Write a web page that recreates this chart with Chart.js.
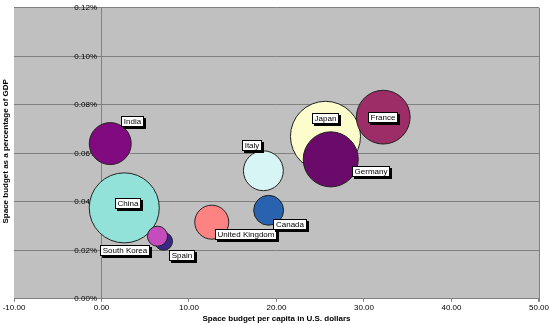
<!DOCTYPE html>
<html>
<head>
<meta charset="utf-8">
<script src="https://cdn.jsdelivr.net/npm/chart.js@4/dist/chart.umd.min.js"></script>
<style>
html,body{margin:0;padding:0;background:#fff;}
#wrap{width:550px;height:324px;position:relative;}
</style>
</head>
<body>
<div id="wrap"><canvas id="c" width="550" height="324"></canvas></div>
<script>
// ---- data ----
const countries = ["China","Japan","India","Italy","United Kingdom","Canada","Spain","South Korea","Germany","France"];
const perCapita = [2.6, 25.6, 1.0, 18.5, 12.6, 19.1, 7.1, 6.4, 26.2, 32.2];          // US$ per capita
const pctGDP    = [0.0375, 0.067, 0.064, 0.0528, 0.0316, 0.0365, 0.0237, 0.0258, 0.0575, 0.0749]; // % of GDP
const budget    = [3.4, 3.4, 1.22, 1.1, 0.8, 0.62, 0.22, 0.28, 2.1, 2.0];            // bubble size (total budget, US$ bn)
const xTicks = [-10, 0, 10, 20, 30, 40, 50];
const yTicks = [0, 0.02, 0.04, 0.06, 0.08, 0.10, 0.12];

// ---- styles ----
const colors = ["#93e2da","#fcfccd","#820a80","#d8f5f5","#fd8282","#2962ae","#3a2889","#c64cbd","#6a0a6a","#9c2d66"];
const labelOffsets = [[4,-4],[0,-18],[22,-22],[-11,-25],[34,12],[21,14],[18,14],[-32,14],[40,12],[0,0]];
const radiusScale = 19;

const bgPlugin = {
  id: 'bg',
  beforeDraw(chart) {
    const {ctx, chartArea: a} = chart;
    ctx.save();
    ctx.fillStyle = '#c0c0c0';
    ctx.fillRect(a.left, a.top, a.right - a.left, a.bottom - a.top);
    ctx.restore();
  },
  afterDatasetsDraw(chart) {
    const {ctx, chartArea: a} = chart;
    ctx.save();
    ctx.strokeStyle = '#808080';
    ctx.lineWidth = 1;
    ctx.beginPath();
    ctx.moveTo(Math.round(a.right) + 0.5, a.top);
    ctx.lineTo(Math.round(a.right) + 0.5, a.bottom + 3);
    ctx.stroke();
    // labels
    const meta = chart.getDatasetMeta(0);
    ctx.font = '8px "Liberation Sans", Arial, sans-serif';
    ctx.textAlign = 'center';
    ctx.textBaseline = 'middle';
    meta.data.forEach((el, i) => {
      const t = countries[i];
      const cx = el.x + labelOffsets[i][0];
      const cy = el.y + labelOffsets[i][1];
      const w = Math.ceil(ctx.measureText(t).width) + 5;
      const h = 11;
      const x0 = Math.round(cx - w / 2), y0 = Math.round(cy - h / 2);
      ctx.fillStyle = '#000';
      ctx.fillRect(x0 + 2, y0 + 2, w, h);
      ctx.fillStyle = '#fff';
      ctx.fillRect(x0, y0, w, h);
      ctx.strokeStyle = '#000';
      ctx.strokeRect(x0 + 0.5, y0 + 0.5, w - 1, h - 1);
      ctx.fillStyle = '#000';
      ctx.fillText(t, x0 + w / 2, y0 + h / 2 + 0.5);
    });
    ctx.restore();
  },
  afterDraw(chart) {
    const {ctx, chartArea: a} = chart;
    ctx.save();
    ctx.translate(6, (a.top + a.bottom) / 2 - 2);
    ctx.rotate(-Math.PI / 2);
    ctx.font = 'bold 8px "Liberation Sans", Arial, sans-serif';
    ctx.textAlign = 'center';
    ctx.textBaseline = 'middle';
    ctx.fillStyle = '#000';
    ctx.fillText('Space budget as a percentage of GDP', 0, 0);
    ctx.restore();
  }
};

const points = countries.map((c, i) => ({x: perCapita[i], y: pctGDP[i], r: radiusScale * Math.sqrt(budget[i])}));

new Chart(document.getElementById('c'), {
  type: 'bubble',
  data: {
    datasets: [{
      data: points,
      backgroundColor: colors,
      borderColor: '#222',
      borderWidth: 1
    }]
  },
  options: {
    responsive: false,
    animation: false,
    layout: {autoPadding: false, padding: {left: 14, right: 11, top: 5, bottom: 0}},
    plugins: {legend: {display: false}, tooltip: {enabled: false}},
    scales: {
      x: {
        type: 'linear',
        min: xTicks[0], max: xTicks[xTicks.length - 1],
        afterBuildTicks: s => { s.ticks = xTicks.map(v => ({value: v})); },
        grid: {display: true, drawOnChartArea: false, color: '#808080', tickLength: 3},
        border: {color: '#808080'},
        ticks: {
          color: '#000', padding: 1,
          font: {family: '"Liberation Sans", Arial, sans-serif', size: 8},
          callback: v => Number(v).toFixed(2)
        },
        title: {
          display: true, text: 'Space budget per capita in U.S. dollars', color: '#000',
          font: {family: '"Liberation Sans", Arial, sans-serif', size: 8, weight: 'bold'},
          padding: {top: 1, bottom: 0}
        }
      },
      y: {
        type: 'linear',
        position: {x: 0},
        min: yTicks[0], max: yTicks[yTicks.length - 1],
        afterBuildTicks: s => { s.ticks = yTicks.map(v => ({value: v})); },
        grid: {color: '#808080', drawTicks: false},
        border: {color: '#808080'},
        ticks: {
          color: '#000',
          font: {family: '"Liberation Sans", Arial, sans-serif', size: 8},
          callback: v => Number(v).toFixed(2) + '%  '
        }
      }
    }
  },
  plugins: [bgPlugin]
});
</script>
</body>
</html>
